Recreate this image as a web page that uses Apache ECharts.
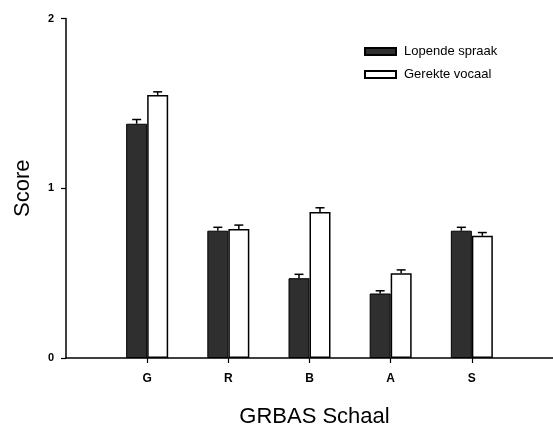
<!DOCTYPE html>
<html>
<head>
<meta charset="utf-8">
<title>GRBAS Schaal</title>
<script src="https://cdn.jsdelivr.net/npm/echarts@6/dist/echarts.min.js"></script>
<style>
  html, body { margin: 0; padding: 0; background: #fff; }
  #chart { width: 553px; height: 433px; }
</style>
</head>
<body>
<div id="chart"></div>
<script>
// categorieen van de GRBAS schaal (x-positie 1..5)
const categories = ['G', 'R', 'B', 'A', 'S']
const positions = [1, 2, 3, 4, 5]

// gemiddelde scores
const lopendeSpraak = [1.38, 0.75, 0.47, 0.38, 0.75]
const gerekteVocaal = [1.55, 0.76, 0.86, 0.50, 0.72]

// standaardfout (alleen naar boven getekend)
const lopendeErr = [0.025, 0.02, 0.023, 0.016, 0.02]
const gerekteErr = [0.018, 0.023, 0.025, 0.019, 0.019]

const yTicks = [0, 1, 2]

const font = '"Liberation Sans", Arial, sans-serif'
const barW = 21

const chart = echarts.init(document.getElementById('chart'))

function errorSeries(name, values, errs, offset) {
  return {
    name: name + ' fout',
    type: 'custom',
    z: 5,
    silent: true,
    data: positions.map((p, i) => [p, values[i], errs[i]]),
    renderItem: (params, api) => {
      const top = api.coord([api.value(0), api.value(1)])
      const end = api.coord([api.value(0), api.value(1) + api.value(2)])
      const x = top[0] + offset
      return {
        type: 'group',
        children: [
          { type: 'line', shape: { x1: x, y1: top[1], x2: x, y2: end[1] },
            style: { stroke: '#000', lineWidth: 1.5 } },
          { type: 'line', shape: { x1: x - 4.5, y1: end[1], x2: x + 4.5, y2: end[1] },
            style: { stroke: '#000', lineWidth: 1.5 } }
        ]
      }
    }
  }
}

const option = {
  animation: false,
  backgroundColor: '#fff',
  textStyle: { fontFamily: font, color: '#000' },
  grid: { left: 66, right: 0, top: 18.5, bottom: 65 },
  legend: {
    orient: 'vertical',
    left: 359,
    top: 40,
    icon: 'rect',
    itemWidth: 31,
    itemHeight: 7,
    itemGap: 10,
    data: ['Lopende spraak', 'Gerekte vocaal'],
    textStyle: { fontFamily: font, fontSize: 13, color: '#000', padding: [0, 0, 0, 3] }
  },
  xAxis: {
    type: 'value',
    min: 0,
    max: 6,
    name: 'GRBAS Schaal',
    nameLocation: 'middle',
    nameGap: 48,
    nameTextStyle: { fontFamily: font, fontSize: 22, color: '#000', padding: [0, 0, 0, 10] },
    axisLine: { show: true, lineStyle: { color: '#000', width: 1.5 } },
    axisTick: { show: true, customValues: positions, length: 5, lineStyle: { color: '#000', width: 1.2 } },
    axisLabel: {
      customValues: positions,
      formatter: v => categories[v - 1],
      margin: 15,
      fontFamily: font,
      fontSize: 12,
      fontWeight: 'bold',
      color: '#000'
    },
    splitLine: { show: false }
  },
  yAxis: {
    type: 'value',
    min: 0,
    max: 2,
    interval: 1,
    name: 'Score',
    nameLocation: 'middle',
    nameGap: 32,
    nameTextStyle: { fontFamily: font, fontSize: 22, color: '#000' },
    axisLine: { show: true, lineStyle: { color: '#000', width: 1.5 } },
    axisTick: { show: true, inside: false, length: 5, lineStyle: { color: '#000', width: 1.2 } },
    axisLabel: {
      margin: 12,
      fontFamily: font,
      fontSize: 11,
      fontWeight: 'bold',
      color: '#000',
      customValues: yTicks
    },
    splitLine: { show: false }
  },
  series: [
    {
      name: 'Lopende spraak',
      type: 'bar',
      barWidth: barW,
      barGap: '0%',
      data: positions.map((p, i) => [p, lopendeSpraak[i]]),
      itemStyle: { color: '#2f2f2f', borderColor: '#000', borderWidth: 1 }
    },
    {
      name: 'Gerekte vocaal',
      type: 'bar',
      barWidth: barW,
      barGap: '0%',
      data: positions.map((p, i) => [p, gerekteVocaal[i]]),
      itemStyle: { color: '#fff', borderColor: '#000', borderWidth: 1.5 }
    },
    errorSeries('Lopende spraak', lopendeSpraak, lopendeErr, -barW / 2),
    errorSeries('Gerekte vocaal', gerekteVocaal, gerekteErr, barW / 2)
  ]
}

chart.setOption(option)
</script>
</body>
</html>
